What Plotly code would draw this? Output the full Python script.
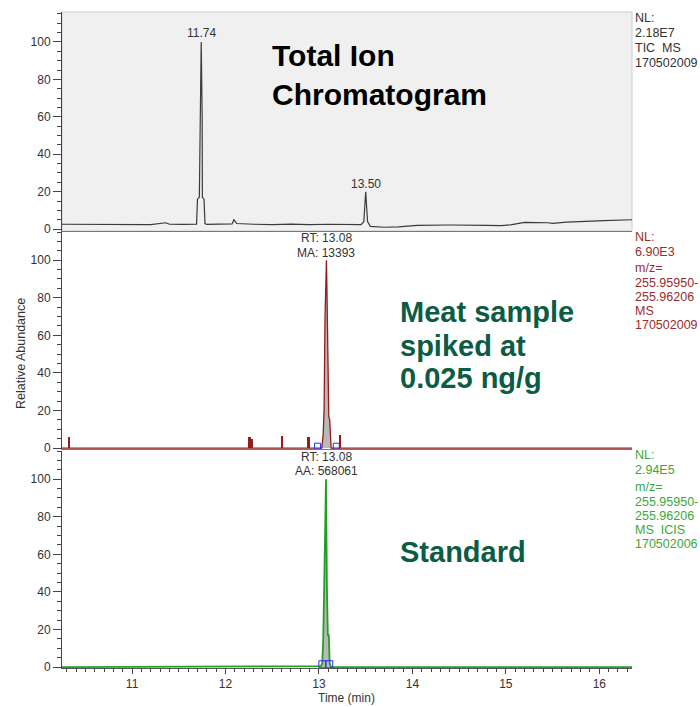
import plotly.graph_objects as go

# ---------------- data ----------------
x_range = [10.25, 16.35]

# Total ion chromatogram (relative abundance, %)
tic_time = [10.25, 10.45, 10.55, 10.85, 11.20, 11.36, 11.40, 11.55, 11.66, 11.69,
            11.70, 11.72, 11.73, 11.74, 11.75, 11.752, 11.77, 11.78, 11.80, 11.90,
            12.00, 12.07, 12.09, 12.12, 12.30, 12.50, 12.70, 12.90, 13.10, 13.30,
            13.45, 13.48, 13.50, 13.52, 13.55, 13.70, 13.85, 14.05, 14.40, 14.80,
            14.95, 15.05, 15.20, 15.45, 15.50, 15.65, 15.80, 16.05, 16.35]
tic_abund = [2.6, 2.6, 2.4, 2.5, 2.4, 3.4, 2.6, 2.5, 2.6, 2.7,
             16.0, 17.0, 60.0, 100.0, 60.0, 17.0, 16.0, 3.0, 2.5, 2.7,
             2.6, 2.8, 5.0, 3.0, 2.6, 2.4, 2.7, 2.4, 2.6, 2.5,
             2.4, 4.0, 20.0, 4.0, 1.5, 1.0, 1.2, 2.0, 2.2, 2.0,
             1.9, 2.3, 3.6, 3.4, 3.1, 3.7, 4.1, 4.5, 5.0]
tic_peak_time = [11.74, 13.50]
tic_peak_label = ["11.74", "13.50"]
tic_peak_label_y = [104.8, 24.1]

# Meat sample, m/z 255.95950-255.96206
meat_time = [10.25, 13.03, 13.045, 13.055, 13.065, 13.075, 13.08, 13.085, 13.095,
             13.105, 13.115, 13.13, 16.35]
meat_abund = [0, 0, 7, 21, 70, 90, 100, 85, 47, 17, 15, 0, 0]
meat_spike_time = [10.325, 12.26, 12.29, 12.61, 12.89, 13.23]
meat_spike_abund = [6.0, 6.0, 5.0, 6.5, 6.0, 7.0]
meat_bound_time = [12.985, 13.185]
meat_labels = ["RT: 13.08", "MA: 13393"]

# Standard
std_time = [10.25, 13.02, 13.035, 13.045, 13.055, 13.065, 13.075, 13.085, 13.095,
            13.105, 13.115, 13.13, 16.35]
std_abund = [0, 0.5, 2, 14, 40, 83, 100, 43, 17, 17, 2, 0, 0]
std_bound_time = [13.036, 13.11]
std_labels = ["RT: 13.08", "AA: 568061"]

top_info = ["NL:", "2.18E7", "TIC&nbsp;&nbsp;MS", "170502009"]
mid_info = ["NL:", "6.90E3", "m/z=", "255.95950-", "255.96206", "MS", "170502009"]
bot_info = ["NL:", "2.94E5", "m/z=", "255.95950-", "255.96206", "MS&nbsp;&nbsp;ICIS", "170502006"]

# ---------------- layout helpers ----------------
W, H = 700, 707
ML, MR, MT, MB = 62, 68, 12, 39
PW, PH = W - ML - MR, H - MT - MB

def py(p):
    return (H - MB - p) / PH

def px(p):
    return (p - ML) / PW

FONT = "Arial, Liberation Sans, sans-serif"
RED = "#951b1b"
RED_TXT = "#9a2c2c"
GREEN = "#22a022"
GREEN_TXT = "#3aa83a"
DKGREEN = "#0b5c45"
GRAY_TXT = "#333333"

fig = go.Figure()

# top TIC
fig.add_trace(go.Scatter(x=tic_time, y=tic_abund, mode="lines",
                         line=dict(color="#3a3a3a", width=1.2),
                         xaxis="x", yaxis="y", showlegend=False, hoverinfo="skip"))
# meat sample
fig.add_trace(go.Bar(x=meat_spike_time, y=meat_spike_abund, width=0.018,
                     marker=dict(color=RED, line=dict(width=0)),
                     xaxis="x2", yaxis="y2", showlegend=False, hoverinfo="skip"))
fig.add_trace(go.Scatter(x=meat_time, y=meat_abund, mode="lines", fill="tozeroy",
                         fillcolor="#b9b9b9", line=dict(color=RED, width=1.3),
                         xaxis="x2", yaxis="y2", showlegend=False, hoverinfo="skip"))
fig.add_trace(go.Scatter(x=meat_bound_time, y=[1.0] * len(meat_bound_time), mode="markers",
                         marker=dict(symbol="square-open", size=6, color="#2a2aff", line=dict(width=1)),
                         xaxis="x2", yaxis="y2", showlegend=False, hoverinfo="skip"))
# standard
fig.add_trace(go.Scatter(x=std_time, y=std_abund, mode="lines", fill="tozeroy",
                         fillcolor="#b9b9b9", line=dict(color=GREEN, width=1.8),
                         xaxis="x3", yaxis="y3", showlegend=False, hoverinfo="skip"))
fig.add_trace(go.Scatter(x=std_bound_time, y=[1.5] * len(std_bound_time), mode="markers",
                         marker=dict(symbol="square-open", size=7, color="#2a2aff", line=dict(width=1)),
                         xaxis="x3", yaxis="y3", showlegend=False, hoverinfo="skip"))

yaxis_common = dict(range=[-0.5, 115], tickmode="linear", tick0=0, dtick=20,
                    ticks="outside", ticklen=8, tickcolor="#444", tickwidth=1,
                    showline=True, linecolor="#444", linewidth=1,
                    showgrid=False, zeroline=False,
                    tickfont=dict(family=FONT, size=12, color=GRAY_TXT),
                    minor=dict(dtick=5, tick0=0, ticks="outside", ticklen=4, tickcolor="#444"))
xaxis_common = dict(range=x_range, showgrid=False, zeroline=False, showline=True,
                    linecolor="#777", linewidth=1, showticklabels=False, ticks="")

layout = dict(
    width=W, height=H,
    margin=dict(l=ML, r=MR, t=MT, b=MB, pad=0),
    paper_bgcolor="white", plot_bgcolor="rgba(0,0,0,0)",
    bargap=0,
    xaxis=dict(**xaxis_common, anchor="y"),
    xaxis2=dict(**xaxis_common, anchor="y2", matches="x"),
    xaxis3=dict(range=x_range, showgrid=False, zeroline=False, showline=True,
                linecolor="#555", linewidth=1, anchor="y3", matches="x",
                tickmode="linear", tick0=10, dtick=1, ticks="outside", ticklen=5,
                tickcolor="#444", tickfont=dict(family=FONT, size=12, color=GRAY_TXT),
                minor=dict(dtick=0.1, ticks="outside", ticklen=3, tickcolor="#444")),
    yaxis=dict(**{**yaxis_common, "range": [-1, 116]}, domain=[py(231), 1.0], anchor="x"),
    yaxis2=dict(**yaxis_common, domain=[py(449), py(232)], anchor="x2"),
    yaxis3=dict(**yaxis_common, domain=[0, py(451)], anchor="x3"),
)
fig.update_layout(**layout)

# top panel background
fig.add_shape(type="rect", xref="x domain", yref="y domain", x0=0, x1=1, y0=0, y1=1,
              fillcolor="#f0f0f0", line=dict(color="#cccccc", width=1), layer="below")

ann = []
# peak labels
for t, lbl, yv in zip(tic_peak_time, tic_peak_label, tic_peak_label_y):
    ann.append(dict(x=t, y=yv, xref="x", yref="y", text=lbl, showarrow=False,
                    font=dict(family=FONT, size=12, color=GRAY_TXT), xanchor="center", yanchor="middle"))
for lbl, pyy in zip(meat_labels, [238, 253]):
    ann.append(dict(x=13.08, y=py(pyy), xref="x2", yref="paper", text=lbl, showarrow=False,
                    font=dict(family=FONT, size=12, color=GRAY_TXT), xanchor="center", yanchor="middle"))
for lbl, pyy in zip(std_labels, [457, 471]):
    ann.append(dict(x=13.08, y=py(pyy), xref="x3", yref="paper", text=lbl, showarrow=False,
                    font=dict(family=FONT, size=12, color=GRAY_TXT), xanchor="center", yanchor="middle"))

# right side info
for txt, pyy in zip(top_info, [18, 33, 48, 63]):
    ann.append(dict(x=px(633), y=py(pyy), xref="paper", yref="paper", text=txt, showarrow=False,
                    font=dict(family=FONT, size=12.5, color=GRAY_TXT), xanchor="left", yanchor="middle"))
for txt, pyy in zip(mid_info, [237, 252, 268, 283, 297, 311, 325]):
    ann.append(dict(x=px(633), y=py(pyy), xref="paper", yref="paper", text=txt, showarrow=False,
                    font=dict(family=FONT, size=12.5, color=RED_TXT), xanchor="left", yanchor="middle"))
for txt, pyy in zip(bot_info, [455, 470, 486.5, 501.5, 515.5, 530, 543.5]):
    ann.append(dict(x=px(633), y=py(pyy), xref="paper", yref="paper", text=txt, showarrow=False,
                    font=dict(family=FONT, size=12.5, color=GREEN_TXT), xanchor="left", yanchor="middle"))

# big labels
for txt, pyy in zip(["Total Ion", "Chromatogram"], [56, 95]):
    ann.append(dict(x=px(270), y=py(pyy), xref="paper", yref="paper", text="<b>%s</b>" % txt,
                    showarrow=False, font=dict(family=FONT, size=30, color="#000000"),
                    xanchor="left", yanchor="middle"))
for txt, pyy in zip(["Meat sample", "spiked at", "0.025 ng/g"], [311.5, 346, 378]):
    ann.append(dict(x=px(398), y=py(pyy), xref="paper", yref="paper", text="<b>%s</b>" % txt,
                    showarrow=False, font=dict(family=FONT, size=29, color=DKGREEN),
                    xanchor="left", yanchor="middle"))
ann.append(dict(x=px(398), y=py(551.5), xref="paper", yref="paper", text="<b>Standard</b>",
                showarrow=False, font=dict(family=FONT, size=29, color=DKGREEN),
                xanchor="left", yanchor="middle"))

# axis titles
ann.append(dict(x=px(21), y=py(354), xref="paper", yref="paper", text="Relative Abundance",
                textangle=-90, showarrow=False, font=dict(family=FONT, size=12.5, color=GRAY_TXT),
                xanchor="center", yanchor="middle"))
ann.append(dict(x=px(346), y=py(698), xref="paper", yref="paper", text="Time (min)",
                showarrow=False, font=dict(family=FONT, size=12, color=GRAY_TXT),
                xanchor="center", yanchor="middle"))

fig.update_layout(annotations=ann)
fig.write_html("out.html")
